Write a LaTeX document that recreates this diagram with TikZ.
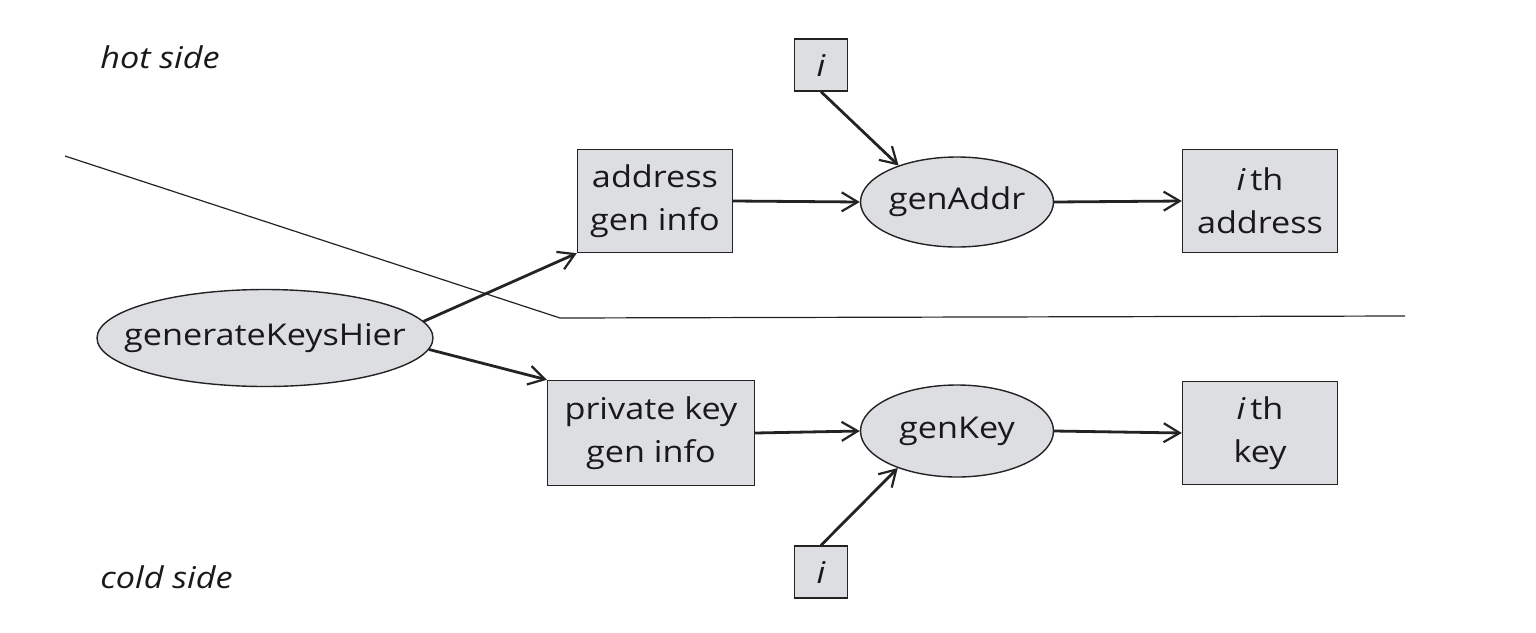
\documentclass[tikz,border=0pt]{standalone}
\usepackage{fontspec}
\setmainfont{Open Sans}[FakeStretch=1.14]
\usetikzlibrary{shapes.geometric,arrows.meta}
\definecolor{boxfill}{RGB}{221,222,226}
\definecolor{inkc}{RGB}{35,35,35}
\tikzset{
  base/.style={draw=inkc, line width=0.7pt, fill=boxfill, inner sep=0pt, align=center,
    font=\fontsize{15pt}{21.5pt}\selectfont, text=black!90},
  rbox/.style={base, rectangle, minimum width=77.5pt, minimum height=51.5pt},
  ibox/.style={base, rectangle, minimum width=26.5pt, minimum height=26pt},
  oval/.style={base, ellipse, minimum width=96.5pt, minimum height=45pt},
  conn/.style={draw=inkc, line width=1.4pt, -{Straight Barb[length=8pt,width=9.5pt,line width=1.1pt]}},
  sep/.style={draw=inkc, line width=0.6pt},
  sidelabel/.style={anchor=west, inner sep=0pt, font=\fontsize{15pt}{21.5pt}\selectfont\itshape, text=black!90}
}
\begin{document}
\begin{tikzpicture}[x=0.5pt,y=-0.5pt]
\useasboundingbox (0,0) rectangle (1536,632);
% side labels
\node[sidelabel] (hot) at (100,57) {hot side};
\node[sidelabel] (cold) at (100,577) {cold side};
% separator
\coordinate (s1) at (65,156);
\coordinate (s2) at (560,318);
\coordinate (s3) at (1405,316);
\draw[sep] (s1) -- (s2) -- (s3);
% nodes
\node[oval, minimum width=168pt, minimum height=48.5pt] (gkh) at (265,338) {\makebox[0pt]{generateKeysHier}};
\node[rbox] (agi) at (655,201) {address\\gen info};
\node[rbox, minimum width=103.5pt, minimum height=52.5pt] (pgi) at (651,433) {private key\\gen info};
\node[oval] (gaddr) at (957,202) {\makebox[0pt]{genAddr}};
\node[oval, minimum height=46pt] (gkey) at (957,431) {\makebox[0pt]{genKey}};
\node[rbox] (ia) at (1260,201) {{\itshape i}\,th\\address};
\node[rbox] (ik) at (1260,433) {{\itshape i}\,th\\key};
\node[ibox] (itop) at (821,65) {\itshape i};
\node[ibox] (ibot) at (821,572) {\itshape i};
% connectors
\draw[conn] (gkh.6) -- (agi.south west);
\draw[conn] (gkh.-4) -- (pgi.north west);
\draw[conn] (agi.east) -- (gaddr.west);
\draw[conn] (pgi.east) -- (gkey.west);
\draw[conn] (gaddr.east) -- (ia.west);
\draw[conn] (gkey.east) -- (ik.west);
\draw[conn] (itop.south) -- (gaddr.148);
\draw[conn] (ibot.north) -- (gkey.212);
\end{tikzpicture}
\end{document}
